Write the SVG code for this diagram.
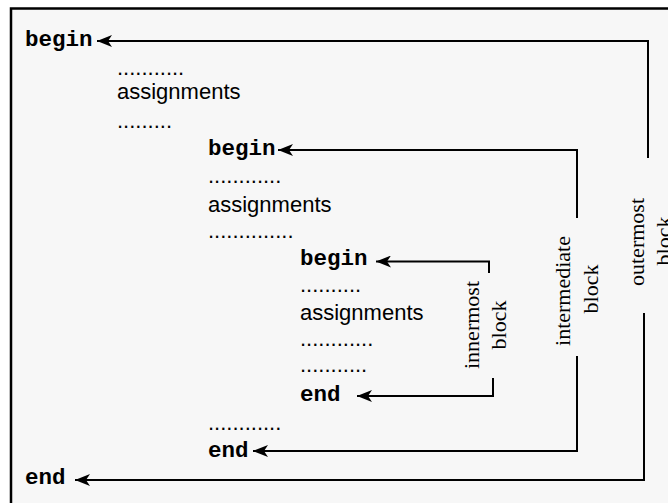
<svg xmlns="http://www.w3.org/2000/svg" width="668" height="503" viewBox="0 0 668 503">
  <style>
    .kw { font-family: "Liberation Mono", "Courier New", monospace; font-weight: bold; font-size: 22.5px; fill: #000; }
    .tx { font-family: "Liberation Sans", Arial, sans-serif; font-size: 22px; fill: #000; }
    .lb { font-family: "Liberation Serif", "Times New Roman", serif; font-size: 22px; fill: #000; text-anchor: middle; }
    .conn { fill: none; stroke: #000; stroke-width: 2; }
  </style>
  <defs>
    <marker id="arrow" markerUnits="userSpaceOnUse" viewBox="0 0 15 12" refX="15" refY="6" markerWidth="15" markerHeight="12" orient="auto">
      <path d="M0,0 L15,6 L0,12 L4,6 z" fill="#000"/>
    </marker>
  </defs>
  <rect x="0" y="0" width="668" height="503" fill="#ffffff"/>
  <rect id="frame" x="11" y="8.5" width="700" height="520" fill="#f7f7f7" stroke="#000" stroke-width="2.5"/>

  <g id="outer-block">
    <text class="kw" x="25" y="46">begin</text>
    <text class="tx" x="117" y="75">...........</text>
    <text class="tx" x="117" y="99">assignments</text>
    <text class="tx" x="117" y="128">.........</text>
    <text class="kw" x="25" y="484">end</text>
  </g>
  <g id="intermediate-block">
    <text class="kw" x="208" y="155">begin</text>
    <text class="tx" x="208" y="183">............</text>
    <text class="tx" x="208" y="212">assignments</text>
    <text class="tx" x="208" y="238">..............</text>
    <text class="tx" x="208" y="430">............</text>
    <text class="kw" x="208" y="457">end</text>
  </g>
  <g id="innermost-block">
    <text class="kw" x="300" y="265">begin</text>
    <text class="tx" x="300" y="292">..........</text>
    <text class="tx" x="300" y="320">assignments</text>
    <text class="tx" x="300" y="346">............</text>
    <text class="tx" x="300" y="372">...........</text>
    <text class="kw" x="300" y="401">end</text>
  </g>
  <g id="label-innermost">
    <text class="lb" transform="translate(479,325) rotate(-90)">innermost</text>
    <text class="lb" transform="translate(506,325) rotate(-90)">block</text>
  </g>
  <g id="label-intermediate">
    <text class="lb" transform="translate(570,291) rotate(-90)">intermediate</text>
    <text class="lb" transform="translate(598,289) rotate(-90)">block</text>
  </g>
  <g id="label-outermost">
    <text class="lb" transform="translate(644,242) rotate(-90)">outermost</text>
    <text class="lb" transform="translate(671,241) rotate(-90)">block</text>
  </g>

  <g id="connectors">
    <path class="conn" d="M648,158 V41 H97" marker-end="url(#arrow)"/>
    <path class="conn" d="M577,218 V150 H278" marker-end="url(#arrow)"/>
    <path class="conn" d="M489,273 V261.5 H376" marker-end="url(#arrow)"/>
    <path class="conn" d="M493,378 V396 H357" marker-end="url(#arrow)"/>
    <path class="conn" d="M577,356 V451 H253" marker-end="url(#arrow)"/>
    <path class="conn" d="M644,313 V480 H75" marker-end="url(#arrow)"/>
  </g>
</svg>
